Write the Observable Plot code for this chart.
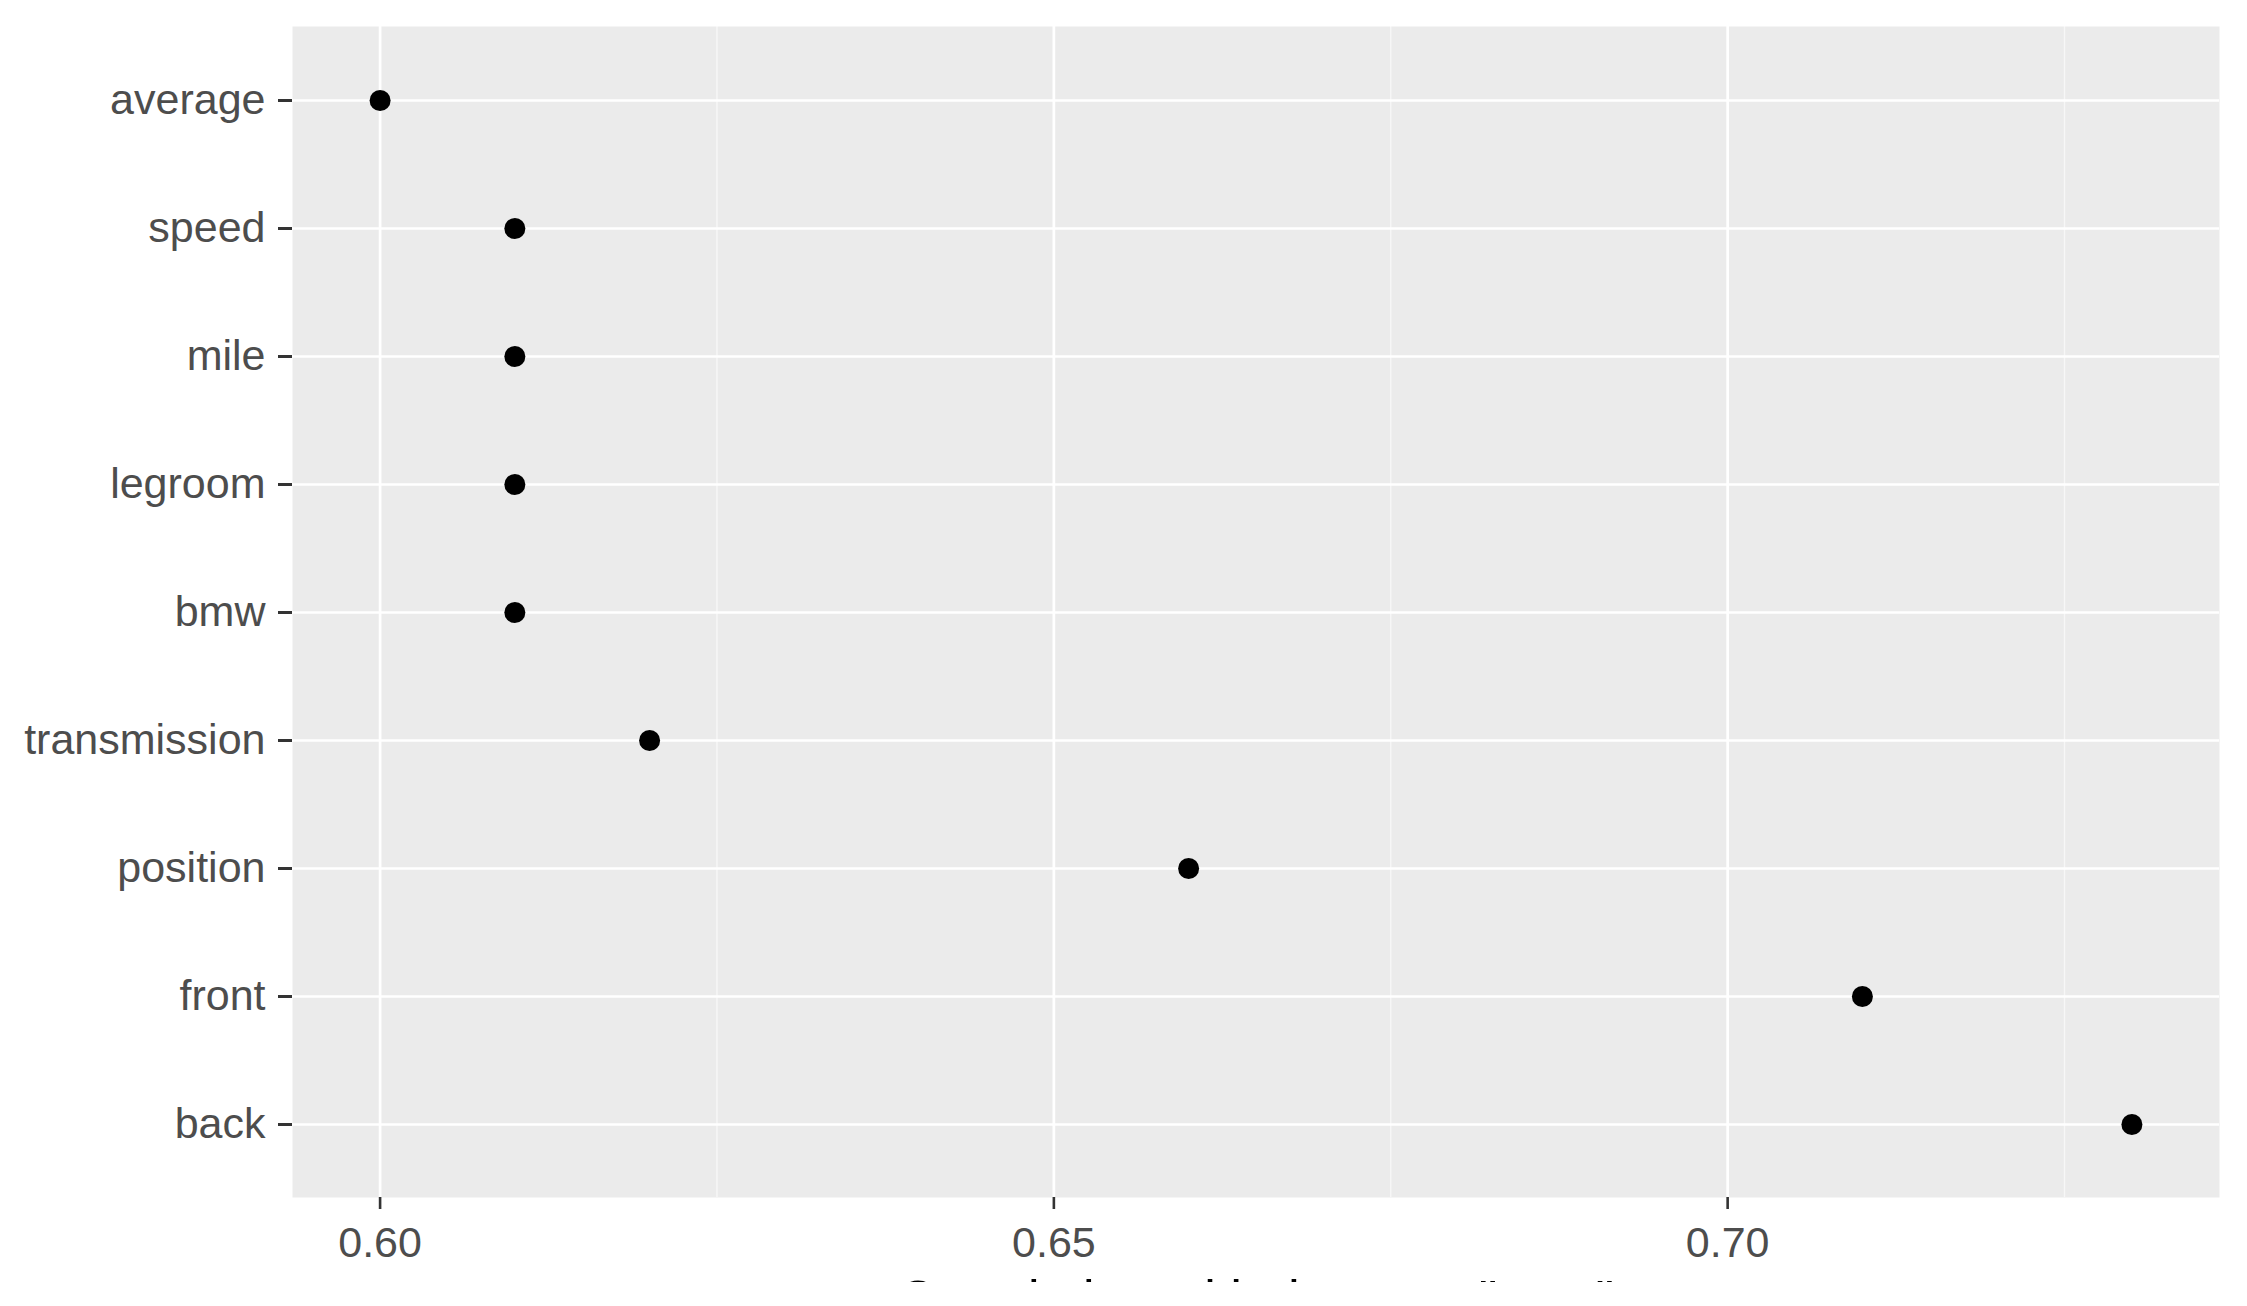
<!DOCTYPE html>
<html>
<head>
<meta charset="utf-8">
<script src="https://cdn.jsdelivr.net/npm/d3@7"></script>
<script src="https://cdn.jsdelivr.net/npm/@observablehq/plot@0.6"></script>
<style>
  html, body { margin: 0; padding: 0; background: white; }
  #wrap { width: 2247px; height: 1282px; overflow: hidden; }
</style>
</head>
<body>
<div id="wrap"></div>
<script>
const terms = ["average", "speed", "mile", "legroom", "bmw", "transmission", "position", "front", "back"];
const corrs = [0.60, 0.61, 0.61, 0.61, 0.61, 0.62, 0.66, 0.71, 0.73];
const majorTicks = [0.60, 0.65, 0.70];
const minorTicks = [0.625, 0.675, 0.725];
const xDomain = [0.5935, 0.7365];
const xLabel = 'Correlation with the term "seat"';

const data = terms.map((t, i) => ({term: t, corr: corrs[i]}));

const chart = Plot.plot({
  width: 2247,
  height: 1306,
  marginLeft: 292,
  marginRight: 28,
  marginTop: 26,
  marginBottom: 109,
  style: {fontFamily: "'Liberation Sans', Arial, sans-serif", background: "white", overflow: "visible"},
  x: {domain: xDomain, label: null},
  y: {type: "point", domain: terms, padding: 0.57, label: null},
  marks: [
    Plot.frame({fill: "#EBEBEB", stroke: null}),
    Plot.gridX(minorTicks, {stroke: "white", strokeOpacity: 0.6, strokeWidth: 1.4}),
    Plot.gridX(majorTicks, {stroke: "white", strokeOpacity: 1, strokeWidth: 2.7}),
    Plot.gridY(terms, {stroke: "white", strokeOpacity: 1, strokeWidth: 2.7}),
    Plot.axisX(majorTicks, {
      tickSize: 12, tickPadding: 17, fontSize: 43,
      tickFormat: d3.format(".2f"),
      stroke: "#333333", strokeWidth: 2.6, fill: "#4D4D4D", label: null
    }),
    Plot.axisY(terms, {
      tickSize: 14, tickPadding: 13, fontSize: 43,
      stroke: "#333333", strokeWidth: 3, fill: "#4D4D4D", label: null
    }),
    Plot.text([xLabel], {
      frameAnchor: "bottom", lineAnchor: "top", dy: 83,
      fontSize: 52, fill: "black", text: d => d
    }),
    Plot.dot(data, {x: "corr", y: "term", r: 10.5, fill: "black", stroke: null})
  ]
});
document.getElementById("wrap").appendChild(chart);
</script>
</body>
</html>
